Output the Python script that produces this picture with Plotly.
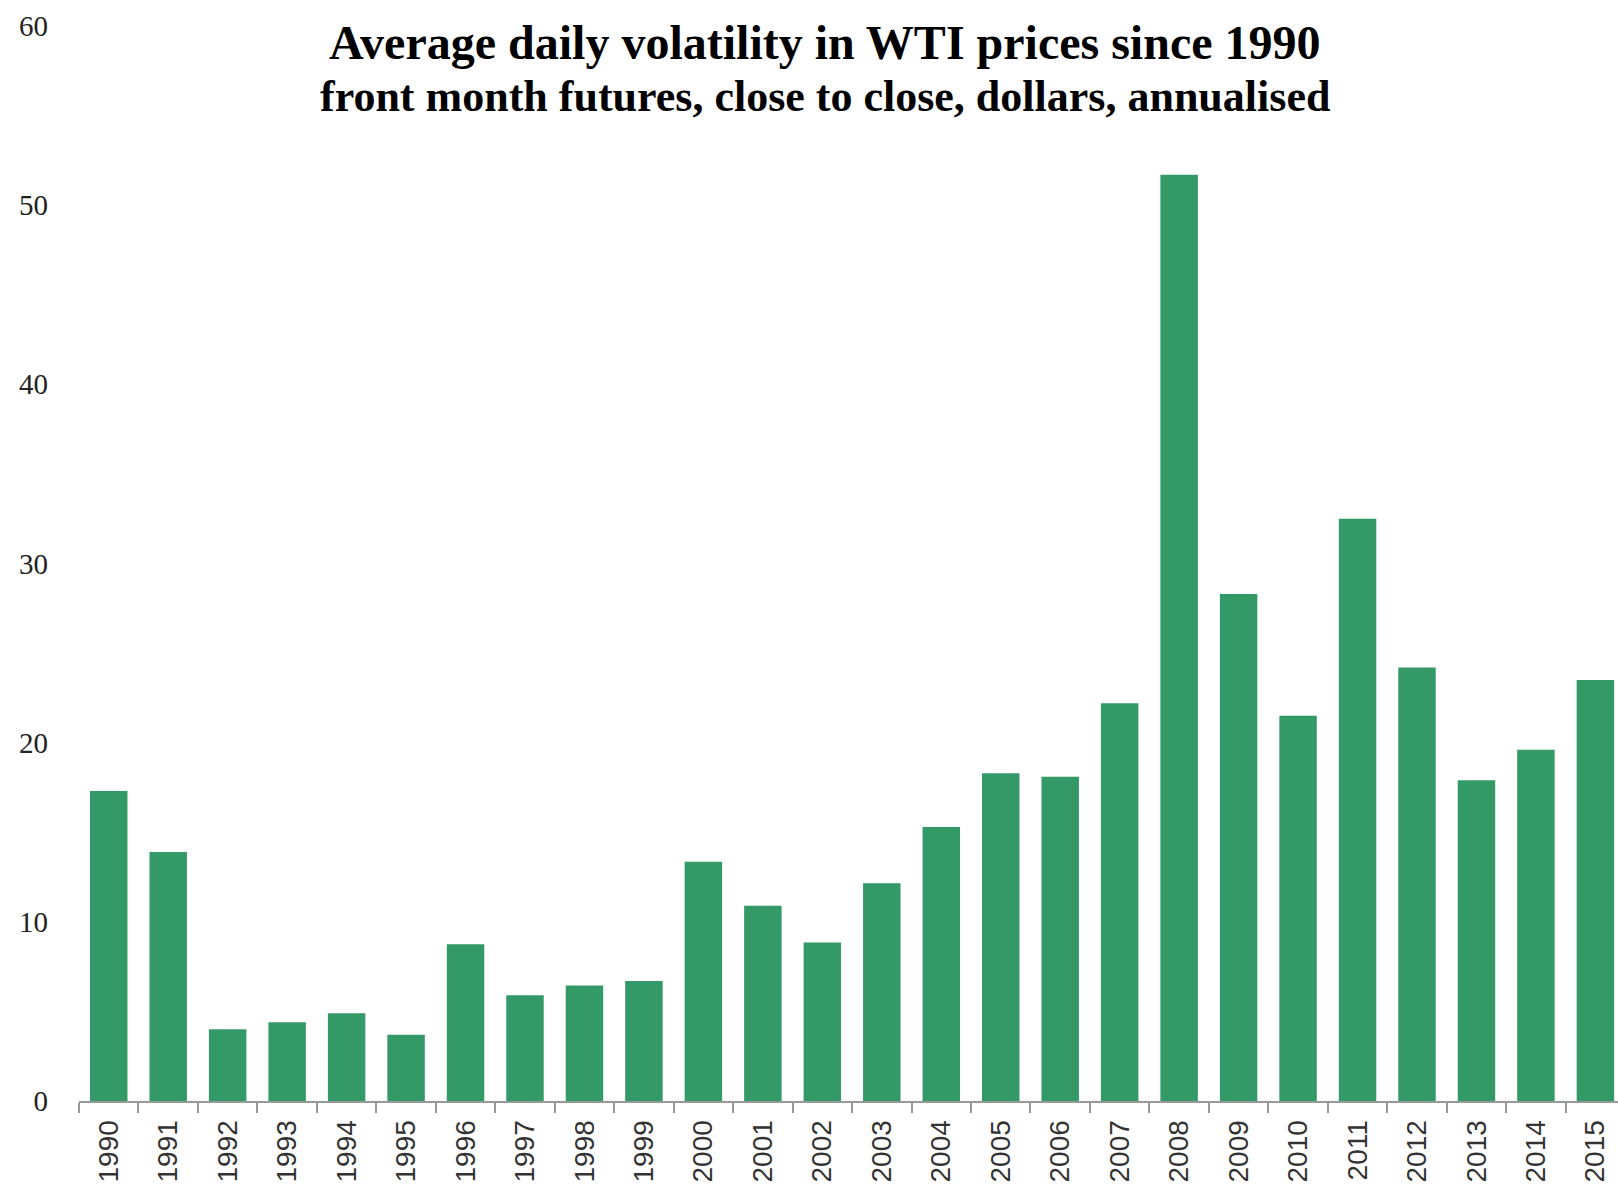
import plotly.graph_objects as go

years = [str(y) for y in range(1990, 2016)]
volatility = [17.3, 13.9, 4.0, 4.4, 4.9, 3.7, 8.75, 5.9, 6.45, 6.7,
              13.35, 10.9, 8.85, 12.15, 15.3, 18.3, 18.1, 22.2, 51.7, 28.3,
              21.5, 32.5, 24.2, 17.9, 19.6, 23.5]

title_line1 = "Average daily volatility in WTI prices since 1990"
title_line2 = "front month futures, close to close, dollars, annualised"
y_ticks = [0, 10, 20, 30, 40, 50, 60]

W, H = 1618, 1189
l, r, t, b = 79, 0, 26, 88
pw, ph = W - l - r, H - t - b
def px(xp): return (xp - l) / pw
def py(yp): return (H - b - yp) / ph

fig = go.Figure()
fig.add_trace(go.Bar(
    x=years, y=volatility,
    marker=dict(color="#339966", line=dict(width=0)),
))

fig.update_layout(
    width=W, height=H,
    margin=dict(l=l, r=r, t=t, b=b),
    paper_bgcolor="white", plot_bgcolor="white",
    bargap=0.37,
    showlegend=False,
    annotations=[
        dict(text="<b>" + title_line1 + "</b>", x=px(825), y=py(42), xref="paper", yref="paper",
             xanchor="center", yanchor="middle", showarrow=False,
             font=dict(family="Liberation Serif", size=48, color="black")),
        dict(text="<b>" + title_line2 + "</b>", x=px(825), y=py(96), xref="paper", yref="paper",
             xanchor="center", yanchor="middle", showarrow=False,
             font=dict(family="Liberation Serif", size=44, color="black")),
    ],
)

fig.update_xaxes(
    type="category",
    range=[-0.5, 25.38],
    showline=True, linecolor="#999999", linewidth=2,
    ticks="outside", tickson="boundaries", ticklen=10, tickcolor="#999999", tickwidth=2,
    tickangle=-90, ticklabelstandoff=6,
    tickfont=dict(family="Liberation Sans", size=28, color="#333333"),
    showgrid=False, zeroline=False,
)
fig.update_yaxes(
    range=[0, 60],
    tickvals=y_ticks,
    showline=False, showgrid=False, zeroline=False,
    ticks="", ticklabelstandoff=30,
    tickfont=dict(family="Liberation Serif", size=29, color="#222222"),
)

fig.write_html("out.html", config={"displayModeBar": False},
               post_script="document.body.style.margin='0';")
